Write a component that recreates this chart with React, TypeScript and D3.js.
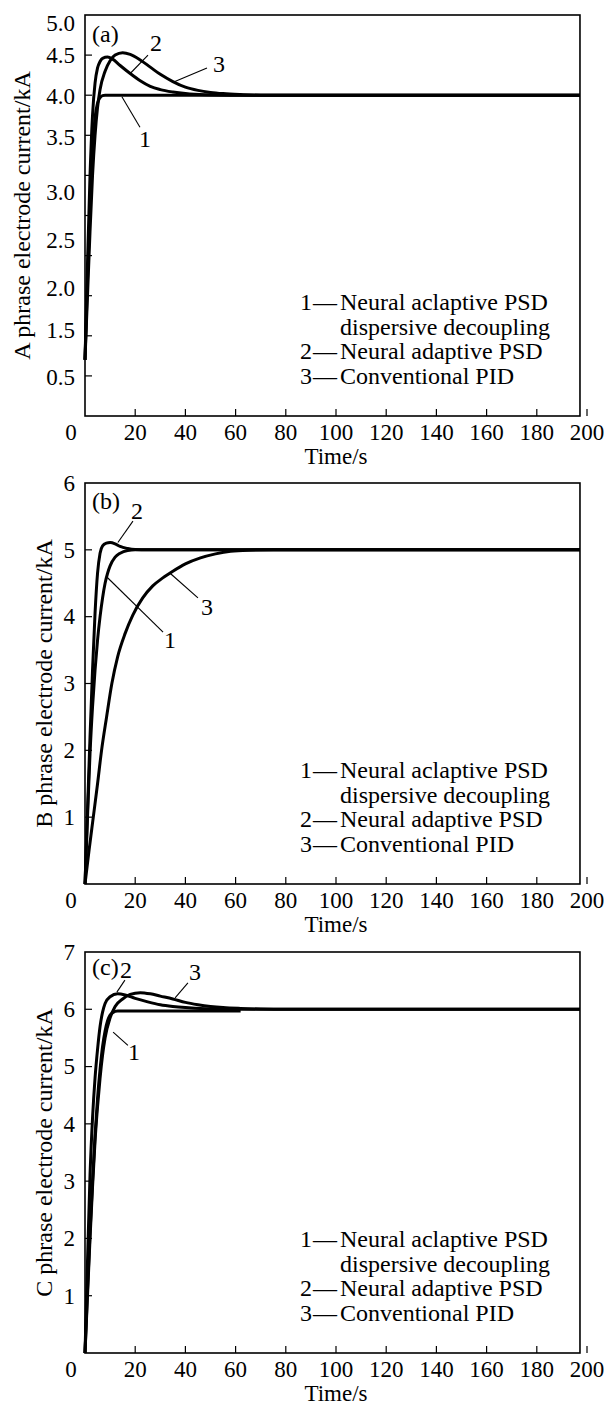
import React from "react";
import * as d3 from "d3";

const FONT = '"Liberation Serif", "Times New Roman", serif';

// shared time axis
const timeTicks = [0, 20, 40, 60, 80, 100, 120, 140, 160, 180, 200];
const frameEnd = 197.2;

// (a) A phrase
const aNeuralDecoupling: [number, number][] = [[0, 0.7], [1, 1.7], [2, 2.6], [3, 3.3], [4, 3.72], [5, 3.9], [6, 3.97], [7, 3.995], [8, 4.0], [197.2, 4.0]];
const aNeuralAdaptive: [number, number][] = [[0, 0.7], [1, 1.9], [2, 3.0], [3, 3.75], [4, 4.15], [5, 4.34], [6, 4.42], [7, 4.46], [9, 4.475], [11, 4.45], [14, 4.37], [18, 4.27], [22, 4.18], [26, 4.11], [30, 4.07], [35, 4.04], [40, 4.02], [48, 4.005], [58, 4.0], [197.2, 4.0]];
const aConventional: [number, number][] = [[0, 0.7], [1, 1.5], [2, 2.3], [3, 3.0], [4, 3.5], [5, 3.85], [6, 4.07], [8, 4.3], [10, 4.43], [12, 4.5], [15, 4.53], [18, 4.51], [22, 4.44], [26, 4.35], [30, 4.26], [35, 4.17], [40, 4.1], [45, 4.06], [50, 4.035], [55, 4.02], [62, 4.008], [70, 4.0], [197.2, 4.0]];
const aTickMarks = [0.5, 1, 1.5, 2, 2.5, 3, 3.5, 4, 4.5];
const aTickLabels = [
  { at: 4.9, text: "5.0" }, { at: 4.5, text: "4.5" }, { at: 3.99, text: "4.0" },
  { at: 3.48, text: "3.5" }, { at: 2.79, text: "3.0" }, { at: 2.19, text: "2.5" },
  { at: 1.59, text: "2.0" }, { at: 1.07, text: "1.5" }, { at: 0.49, text: "0.5" },
];
const aNotes = [
  { text: "2", t: 28.3, v: 4.65, from: [18.3, 4.28], to: [25.1, 4.5] },
  { text: "3", t: 53.4, v: 4.39, from: [35.1, 4.16], to: [48.6, 4.34] },
  { text: "1", t: 23.9, v: 3.45, from: [14.7, 3.98], to: [21.9, 3.6] },
];

// (b) B phrase
const bNeuralDecoupling: [number, number][] = [[0, 0], [1, 1.0], [2, 1.95], [3, 2.65], [4, 3.2], [5, 3.65], [6, 4.0], [7, 4.28], [8, 4.5], [9, 4.65], [10, 4.76], [12, 4.89], [14, 4.95], [17, 4.99], [20, 5.0], [197.2, 5.0]];
const bNeuralAdaptive: [number, number][] = [[0, 0], [1, 1.1], [2, 2.2], [3, 3.2], [4, 4.05], [5, 4.65], [6, 4.95], [7, 5.06], [8.5, 5.1], [10, 5.11], [12, 5.09], [14, 5.05], [17, 5.02], [20, 5.005], [25, 5.0], [197.2, 5.0]];
const bConventional: [number, number][] = [[0, 0], [1.6, 0.5], [3.3, 1.0], [5, 1.5], [6.6, 2.0], [8.6, 2.5], [10.7, 3.0], [13, 3.4], [16, 3.75], [19, 4.02], [23, 4.28], [27, 4.46], [31, 4.58], [35, 4.68], [40, 4.79], [46, 4.88], [52, 4.94], [58, 4.98], [65, 4.995], [75, 5.0], [197.2, 5.0]];
const bTickMarks = [1, 2, 3, 4, 5];
const bTickLabels = [6, 5, 4, 3, 2, 1].map(v => ({ at: v, text: String(v) }));
const bNotes = [
  { text: "2", t: 20.7, v: 5.58, from: [13.1, 5.11], to: [19.1, 5.43] },
  { text: "1", t: 33.9, v: 3.66, from: [8.8, 4.59], to: [31.1, 3.77] },
  { text: "3", t: 48.6, v: 4.15, from: [33.9, 4.65], to: [45.0, 4.28] },
];

// (c) C phrase
const cNeuralDecoupling: [number, number][] = [[0, 0], [1, 1.1], [2, 2.1], [3, 3.0], [4, 3.8], [5, 4.45], [6, 4.95], [7, 5.35], [8, 5.62], [9, 5.8], [10, 5.9], [11, 5.94], [13, 5.97], [62, 5.97]];
const cNeuralAdaptive: [number, number][] = [[0, 0], [1, 1.6], [2, 3.1], [3, 4.1], [4, 4.8], [5, 5.3], [6, 5.7], [7, 5.95], [8, 6.1], [10, 6.22], [13, 6.27], [16, 6.25], [20, 6.19], [25, 6.13], [30, 6.08], [35, 6.05], [40, 6.03], [48, 6.01], [60, 6.0], [197.2, 6.0]];
const cConventional: [number, number][] = [[0, 0], [1, 1.0], [2, 2.0], [3, 2.9], [4, 3.7], [5, 4.3], [6, 4.8], [7, 5.2], [8, 5.5], [10, 5.85], [12, 6.05], [15, 6.18], [18, 6.26], [22, 6.29], [26, 6.27], [30, 6.23], [35, 6.18], [40, 6.12], [45, 6.08], [50, 6.05], [55, 6.03], [62, 6.015], [70, 6.005], [80, 6.0], [197.2, 6.0]];
const cTickMarks = [1, 2, 3, 4, 5, 6];
const cTickLabels = [7, 6, 5, 4, 3, 2, 1].map(v => ({ at: v, text: String(v) }));
const cNotes = [
  { text: "2", t: 16.3, v: 6.69, from: [12.7, 6.3], to: [15.9, 6.51] },
  { text: "3", t: 43.8, v: 6.65, from: [35.9, 6.2], to: [41.0, 6.46] },
  { text: "1", t: 19.5, v: 5.25, from: [11.2, 5.6], to: [17.1, 5.37] },
];

const legendItems = [
  { num: "1", text: "Neural aclaptive PSD" },
  { num: "", text: "dispersive decoupling" },
  { num: "2", text: "Neural adaptive PSD" },
  { num: "3", text: "Conventional PID" },
];

const panels = [
  { top: 15, yMax: 5, tag: "(a)", title: "A phrase electrode current/kA", curves: [aNeuralDecoupling, aNeuralAdaptive, aConventional], marks: aTickMarks, labels: aTickLabels, notes: aNotes, tagV: 4.66 },
  { top: 483, yMax: 6, tag: "(b)", title: "B phrase electrode current/kA", curves: [bNeuralDecoupling, bNeuralAdaptive, bConventional], marks: bTickMarks, labels: bTickLabels, notes: bNotes, tagV: 5.61 },
  { top: 952, yMax: 7, tag: "(c)", title: "C phrase electrode current/kA", curves: [cNeuralDecoupling, cNeuralAdaptive, cConventional], marks: cTickMarks, labels: cTickLabels, notes: cNotes, tagV: 6.6 },
];

const PANEL_H = 401;
const x = d3.scaleLinear().domain([0, 200]).range([85, 587]);

function Panel({ p }: { p: typeof panels[number] }) {
  const bottom = p.top + PANEL_H;
  const y = d3.scaleLinear().domain([0, p.yMax]).range([bottom, p.top]);
  const line = d3.line<[number, number]>()
    .x(d => x(d[0]))
    .y(d => y(d[1]))
    .curve(d3.curveMonotoneX);
  const titleX = p.yMax === 5 ? 30 : 52;
  const titleY = (p.top + bottom) / 2;

  return (
    <g fontFamily={FONT} fill="#000">
      <rect x={x(0)} y={p.top} width={x(frameEnd) - x(0)} height={PANEL_H}
        fill="none" stroke="#000" strokeWidth={1.6} />
      {/* y ticks */}
      {p.marks.map(v => (
        <line key={"ym" + v} x1={x(0)} x2={x(0) + 7} y1={y(v)} y2={y(v)} stroke="#000" strokeWidth={1.2} />
      ))}
      {p.labels.map(l => (
        <text key={"yl" + l.text} x={75} y={y(l.at)} dy="0.34em" textAnchor="end" fontSize={23}>{l.text}</text>
      ))}
      {/* x ticks */}
      {timeTicks.filter(t => t > 0).map(t => (
        <line key={"xm" + t} x1={x(t)} x2={x(t)} y1={bottom} y2={bottom - 7} stroke="#000" strokeWidth={1.2} />
      ))}
      {timeTicks.map(t => (
        <text key={"xl" + t} x={t === 0 ? x(t) - 14 : x(t)} y={bottom + 24} textAnchor="middle" fontSize={23}>{t}</text>
      ))}
      <text x={x(100)} y={bottom + 48} textAnchor="middle" fontSize={23}>Time/s</text>
      <text transform={`translate(${titleX},${titleY}) rotate(-90)`} textAnchor="middle" fontSize={24}>{p.title}</text>
      {/* curves */}
      {p.curves.map((c, i) => (
        <path key={"c" + i} d={line(c) || ""} fill="none" stroke="#000" strokeWidth={3} strokeLinejoin="round" />
      ))}
      {/* annotations */}
      {p.notes.map(n => (
        <g key={"n" + n.text}>
          <line x1={x(n.from[0])} y1={y(n.from[1])} x2={x(n.to[0])} y2={y(n.to[1])} stroke="#000" strokeWidth={1.1} />
          <text x={x(n.t)} y={y(n.v)} dy="0.34em" textAnchor="middle" fontSize={24}>{n.text}</text>
        </g>
      ))}
      <text x={x(2.8)} y={y(p.tagV)} fontSize={24}>{p.tag}</text>
      {/* legend */}
      {legendItems.map((item, i) => {
        const ly = bottom - 106 + i * 24.7;
        return (
          <g key={"lg" + i}>
            {item.num && <text x={300} y={ly} fontSize={24}>{item.num}</text>}
            {item.num && <text x={313} y={ly} fontSize={24}>—</text>}
            <text x={340} y={ly} fontSize={24}>{item.text}</text>
          </g>
        );
      })}
    </g>
  );
}

export default function App() {
  return (
    <svg width={606} height={1405} style={{ position: "absolute", left: 0, top: 0, background: "#fff" }}>
      <rect width={606} height={1405} fill="#fff" />
      {panels.map(p => <Panel key={p.tag} p={p} />)}
    </svg>
  );
}
